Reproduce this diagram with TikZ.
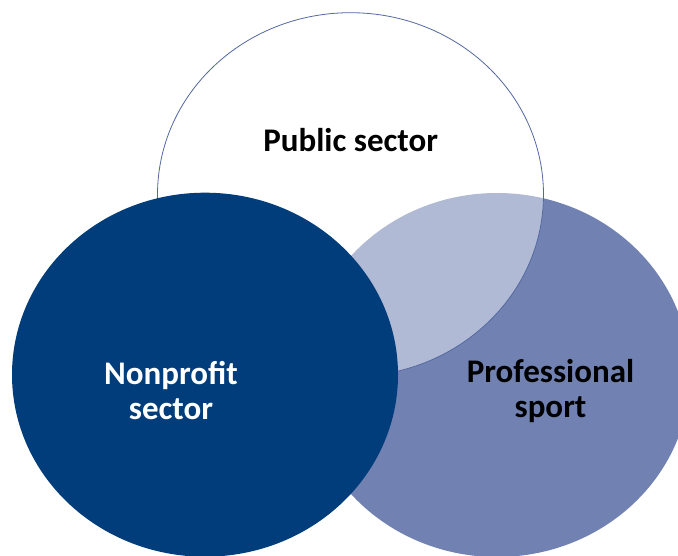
\documentclass[tikz,border=0pt]{standalone}
\usepackage{fontspec}
\setmainfont{Carlito}
\usepackage{tikz}
\usetikzlibrary{shapes.geometric}
\definecolor{nonprofitblue}{RGB}{0,61,122}
\definecolor{sportblue}{RGB}{113,130,178}
\definecolor{publicline}{RGB}{84,104,160}

\begin{document}
\begin{tikzpicture}[
  x=1pt, y=-1pt,
  sector/.style={ellipse, minimum width=386pt, minimum height=364pt,
    inner sep=0pt},
  sectorlabel/.style={font=\bfseries\fontsize{33}{35}\selectfont,
    align=center, inner sep=0pt},
]
  \useasboundingbox (0,0) rectangle (678,556);

  \node[sector, fill=sportblue] (sport) at (497,375) {};
  \node[sector, fill=white, fill opacity=0.45, draw=publicline,
    line width=0.8pt] (public) at (350.5,194.7) {};
  \node[sector, fill=nonprofitblue] (nonprofit) at (205,374.7) {};

  \node[sectorlabel, anchor=base] (publictext) at (350.7,152) {Public sector};
  \node[sectorlabel, text=white] (nonprofittext) at (171,391)
    {Nonprofit\\sector};
  \node[sectorlabel] (sporttext) at (550.5,391) {Professional\\sport};
\end{tikzpicture}
\end{document}
